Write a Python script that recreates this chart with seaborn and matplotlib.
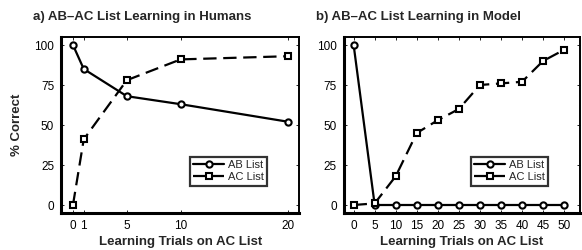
import numpy as np
import pandas as pd
import matplotlib.pyplot as plt
import seaborn as sns

# data
human_trials = [0, 1, 5, 10, 20]
human_ab = [100, 85, 68, 63, 52]
human_ac = [0, 41, 78, 91, 93]

model_trials = [0, 5, 10, 15, 20, 25, 30, 35, 40, 45, 50]
model_ab = [100, 0, 0, 0, 0, 0, 0, 0, 0, 0, 0]
model_ac = [0, 1, 18, 45, 53, 60, 75, 76, 77, 90, 97]

y_ticks = [0, 25, 50, 75, 100]

sns.set_theme(style="ticks")
plt.rcParams['font.family'] = ['Liberation Sans', 'DejaVu Sans']

fig = plt.figure(figsize=(5.82, 2.5), dpi=100)
ax1 = fig.add_axes([0.105, 0.148, 0.409, 0.704])
ax2 = fig.add_axes([0.591, 0.148, 0.405, 0.704])


def draw(ax, trials, ab, ac, xticks, xlim, title):
    sns.lineplot(x=trials, y=ab, ax=ax, color="black", lw=1.6, marker="o",
                 markersize=4.5, markerfacecolor="white", markeredgecolor="black",
                 markeredgewidth=1.5, label="AB List")
    sns.lineplot(x=trials, y=ac, ax=ax, color="black", lw=1.6, marker="s",
                 markersize=4.5, markerfacecolor="white", markeredgecolor="black",
                 markeredgewidth=1.5, linestyle=(0, (6, 3)), label="AC List")
    ax.set_xlim(*xlim)
    ax.set_ylim(-5, 105)
    ax.set_xticks(xticks)
    ax.set_yticks(y_ticks)
    ax.tick_params(direction="in", length=2.5, width=0.6, labelsize=8.5,
                   colors="black", top=True, right=True, pad=5)
    for side in ["left", "bottom"]:
        ax.spines[side].set_linewidth(2.2)
    for side in ["top", "right"]:
        ax.spines[side].set_linewidth(1.4)
    for s in ax.spines.values():
        s.set_color("black")
    ax.set_xlabel("Learning Trials on AC List", fontsize=9.5, fontweight="bold", labelpad=3)
    ax.text(-0.12, 1.08, title, transform=ax.transAxes, fontsize=9.5,
            fontweight="bold", ha="left", va="bottom")
    leg = ax.legend(loc="lower right", bbox_to_anchor=(0.865, 0.155), fontsize=8,
                    frameon=True, fancybox=False, handlelength=2.8, handletextpad=0.3,
                    borderpad=0.3, labelspacing=0.2, borderaxespad=0)
    leg.get_frame().set_edgecolor("black")
    leg.get_frame().set_linewidth(1.6)


draw(ax1, human_trials, human_ab, human_ac, human_trials, (-1.1, 21.0),
     "a) AB\u2013AC List Learning in Humans")
draw(ax2, model_trials, model_ab, model_ac, model_trials, (-2.3, 53.7),
     "b) AB\u2013AC List Learning in Model")
ax1.set_ylabel("% Correct", fontsize=9.5, fontweight="bold", labelpad=8)

fig.savefig("out.png", dpi=100)
